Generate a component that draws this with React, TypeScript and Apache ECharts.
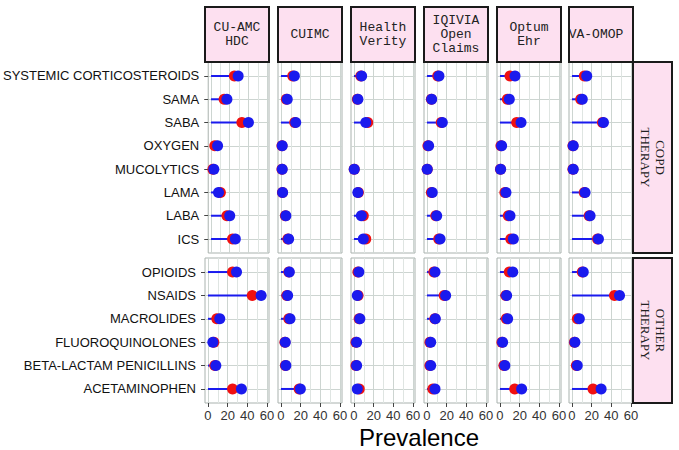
import React, { useEffect, useRef } from 'react';
import * as echarts from 'echarts';

// ---- categories ----
const copdCats = ['SYSTEMIC CORTICOSTEROIDS', 'SAMA', 'SABA', 'OXYGEN', 'MUCOLYTICS', 'LAMA', 'LABA', 'ICS'];
const otherCats = ['OPIOIDS', 'NSAIDS', 'MACROLIDES', 'FLUOROQUINOLONES', 'BETA-LACTAM PENICILLINS', 'ACETAMINOPHEN'];
const siteLabels = ['CU-AMC\nHDC', 'CUIMC', 'Health\nVerity', 'IQIVIA\nOpen\nClaims', 'Optum\nEhr', 'VA-OMOP'];
const groupLabels = ['COPD\nTHERAPY', 'OTHER\nTHERAPY'];
const xTicks = [0, 20, 40, 60];
const xMinorTicks = [10, 30, 50];

// ---- values (COPD rows, then OTHER rows) ----
const cuamcRedCopd = [25, 14, 33, 4, 2, 10, 17, 23];
const cuamcBlueCopd = [29, 17, 40, 7, 3, 8, 20, 26];
const cuamcRedOther = [25, 45, 9, 6, 7, 25];
const cuamcBlueOther = [29, 54, 12, 5, 8, 34];

const cuimcRedCopd = [12, 5.5, 14, 1, 1, 1.5, 4.5, 7];
const cuimcBlueCopd = [13.6, 6.4, 15, 1.3, 1.3, 1.7, 5, 7.8];
const cuimcRedOther = [8, 6, 8, 4, 4.5, 18.5];
const cuimcBlueOther = [8.5, 6.8, 9.2, 4.4, 5, 19.7];

const hvRedCopd = [7, 3.5, 14, null, 0.3, 4.5, 9.5, 12];
const hvBlueCopd = [7.8, 4, 12, null, 0.3, 4, 7.5, 9.5];
const hvRedOther = [4, 4.2, 5.3, 2, 2, 5.4];
const hvBlueOther = [5, 3.4, 6, 2.7, 2.7, 3.4];

const iqRedCopd = [11, 4.5, 14.5, 1, 0.3, 4.5, 9, 12];
const iqBlueCopd = [12.2, 4.8, 15.6, 1.7, 0.3, 5.4, 9.9, 13.3];
const iqRedOther = [7, 17.5, 8, 3, 3, 6];
const iqBlueOther = [8.2, 19, 8.5, 3.8, 3.8, 8.2];

const optRedCopd = [10.2, 7.5, 17, 1, 0.5, 5, 8.5, 11];
const optBlueCopd = [15.3, 9.5, 21.4, 1.7, 0.7, 6.1, 10.2, 13.6];
const optRedOther = [9.5, 6, 6.5, 2, 4, 15];
const optBlueOther = [13, 6.8, 7.8, 2.7, 5, 22];

const vaRedCopd = [12.6, 8.9, 31, 1, 1, 12.5, 17.5, 26];
const vaBlueCopd = [15, 10.5, 32, 1.3, 1.3, 13.3, 18.4, 26.9];
const vaRedOther = [10.5, 43.2, 5.5, 2.5, 4.5, 21.4];
const vaBlueOther = [11.5, 48.3, 7.5, 3, 5.4, 29.6];

const redBySite = [
  [cuamcRedCopd, cuamcRedOther],
  [cuimcRedCopd, cuimcRedOther],
  [hvRedCopd, hvRedOther],
  [iqRedCopd, iqRedOther],
  [optRedCopd, optRedOther],
  [vaRedCopd, vaRedOther],
];
const blueBySite = [
  [cuamcBlueCopd, cuamcBlueOther],
  [cuimcBlueCopd, cuimcBlueOther],
  [hvBlueCopd, hvBlueOther],
  [iqBlueCopd, iqBlueOther],
  [optBlueCopd, optBlueOther],
  [vaBlueCopd, vaBlueOther],
];
const rowCats = [copdCats, otherCats];

// ---- layout ----
const colLeft = [205, 278, 351, 424, 497, 569];
const panelW = 64;
const rowTop = [62, 258];
const rowH = [191, 145];
const headerTop = 7;
const stripX = 633;
const stripW = 39;

const BLUE = '#1a1aee';
const RED = '#f01010';
const PINK = '#fde0f0';
const BORDER = '#a9b2ae';
const GRID_MAJOR = '#cdd5d1';
const GRID_MINOR = '#dfe5e2';

function buildOption() {
  const grids: any[] = [];
  const xAxes: any[] = [];
  const yAxes: any[] = [];
  const series: any[] = [];
  for (let row = 0; row < 2; row++) {
    const cats = rowCats[row];
    const idx = cats.map((_, i) => i);
    for (let col = 0; col < 6; col++) {
      const g = row * 6 + col;
      grids.push({
        left: colLeft[col], top: rowTop[row], width: panelW, height: rowH[row],
        show: true, borderColor: BORDER, borderWidth: 1, backgroundColor: '#ffffff',
        containLabel: false,
      });
      xAxes.push({
        type: 'value', gridIndex: g, min: -3, max: 62, position: 'bottom',
        axisLine: { show: false, onZero: false },
        axisTick: { show: row === 1, customValues: xTicks, length: 4, lineStyle: { color: '#444' } },
        axisLabel: {
          show: row === 1, customValues: xTicks, margin: 6, color: '#333',
          fontSize: 13, fontFamily: 'Liberation Sans',
        },
        splitLine: { show: true, lineStyle: { color: GRID_MAJOR, width: 1 } },
      });
      xAxes.push({
        type: 'value', gridIndex: g, min: -3, max: 62, position: 'top',
        axisLine: { show: false, onZero: false },
        axisTick: { show: false, customValues: xMinorTicks },
        axisLabel: { show: false },
        splitLine: { show: true, lineStyle: { color: GRID_MINOR, width: 1 } },
      });
      yAxes.push({
        type: 'value', gridIndex: g, min: -0.6, max: cats.length - 0.4, inverse: true,
        axisLine: { show: false, onZero: false },
        axisTick: { show: col === 0, customValues: idx, length: 4, lineStyle: { color: '#444' } },
        axisLabel: {
          show: col === 0, customValues: idx, margin: 9, color: '#111',
          fontSize: 13, fontFamily: 'Liberation Sans',
          formatter: (v: number) => cats[Math.round(v)] ?? '',
        },
        splitLine: { show: true, lineStyle: { color: GRID_MAJOR, width: 1 } },
      });
      const red = redBySite[col][row];
      const blue = blueBySite[col][row];
      const blueData = blue
        .map((v, i) => (v == null ? null : [v, i]))
        .filter((d) => d !== null);
      const redData = red
        .map((v, i) => (v == null ? null : [v, i]))
        .filter((d) => d !== null);
      series.push({
        type: 'custom', xAxisIndex: 2 * g, yAxisIndex: g,
        data: blueData, encode: { x: 0, y: 1 }, z: 2, clip: false,
        renderItem: (params: any, api: any) => {
          const v = api.value(0);
          const i = api.value(1);
          const p0 = api.coord([0, i]);
          const p1 = api.coord([v, i]);
          return {
            type: 'line',
            shape: { x1: p0[0], y1: p0[1], x2: p1[0], y2: p1[1] },
            style: { stroke: BLUE, lineWidth: 2 },
          };
        },
      });
      series.push({
        type: 'scatter', xAxisIndex: 2 * g, yAxisIndex: g, data: redData,
        symbolSize: 11, itemStyle: { color: RED, opacity: 1 }, z: 3, clip: false,
      });
      series.push({
        type: 'scatter', xAxisIndex: 2 * g, yAxisIndex: g, data: blueData,
        symbolSize: 11, itemStyle: { color: BLUE, opacity: 1 }, z: 4, clip: false,
      });
    }
  }

  const graphics: any[] = [];
  siteLabels.forEach((lab, col) => {
    graphics.push({
      type: 'rect', z: 10,
      shape: { x: colLeft[col], y: headerTop, width: panelW, height: rowTop[0] - headerTop },
      style: { fill: PINK, stroke: '#1a1a1a', lineWidth: 2 },
    });
    const cx = col === 5 ? colLeft[col] + 27 : colLeft[col] + panelW / 2;
    graphics.push({
      type: 'text', z: 11, x: cx, y: (headerTop + rowTop[0]) / 2,
      style: {
        text: lab, fill: '#222', font: '13px "Liberation Mono"', lineHeight: 14,
        align: 'center', verticalAlign: 'middle', textAlign: 'center', textVerticalAlign: 'middle',
      },
    });
  });
  groupLabels.forEach((lab, row) => {
    graphics.push({
      type: 'rect', z: 10,
      shape: { x: stripX, y: rowTop[row], width: stripW, height: rowH[row] },
      style: { fill: PINK, stroke: '#1a1a1a', lineWidth: 2 },
    });
    graphics.push({
      type: 'text', z: 11, x: stripX + stripW / 2, y: rowTop[row] + rowH[row] / 2,
      rotation: -Math.PI / 2,
      style: {
        text: lab, fill: '#222', font: '13px "Liberation Serif"', lineHeight: 15,
        align: 'center', verticalAlign: 'middle', textAlign: 'center', textVerticalAlign: 'middle',
      },
    });
  });
  graphics.push({
    type: 'text', z: 11, x: (colLeft[0] + stripX) / 2, y: 437,
    style: {
      text: 'Prevalence', fill: '#000000', font: '24px "Liberation Sans"',
      align: 'center', verticalAlign: 'middle', textAlign: 'center', textVerticalAlign: 'middle',
    },
  });

  return {
    animation: false,
    backgroundColor: '#ffffff',
    grid: grids,
    xAxis: xAxes,
    yAxis: yAxes,
    series,
    graphic: { elements: graphics },
  };
}

export default function App() {
  const ref = useRef<HTMLDivElement>(null);
  useEffect(() => {
    const chart = echarts.init(ref.current as HTMLDivElement, null, { renderer: 'svg' });
    chart.setOption(buildOption() as any);
    return () => chart.dispose();
  }, []);
  return (
    <div
      ref={ref}
      style={{ position: 'fixed', left: 0, top: 0, width: 679, height: 450 }}
    />
  );
}
